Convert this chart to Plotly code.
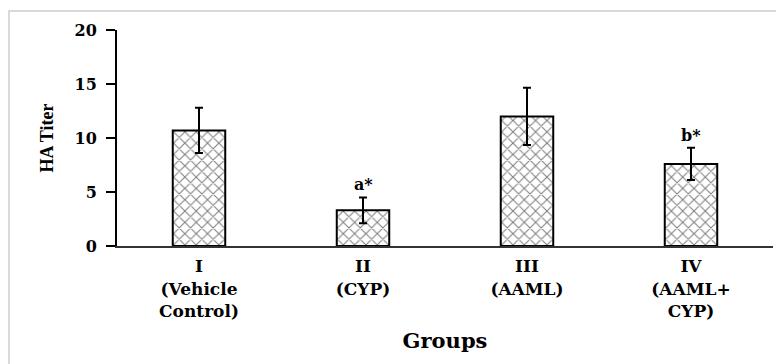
import plotly.graph_objects as go

groups = ["I<br>(Vehicle<br>Control)", "II<br>(CYP)", "III<br>(AAML)", "IV<br>(AAML+<br>CYP)"]
ha_titer = [10.7, 3.3, 12.0, 7.6]
sd = [2.1, 1.2, 2.65, 1.5]
sig_labels = ["", "a*", "", "b*"]

FONT = "Liberation Serif, Times New Roman, serif"
WIDE = "DejaVu Serif, serif"
# page body has an 8px default margin; figure sized to fit inside the window
W, H = 776, 356
ML, MR, MT, MB = 109, 11, 22, 118

x_idx = list(range(len(groups)))

fig = go.Figure()
fig.add_trace(go.Bar(
    x=x_idx, y=ha_titer, width=0.32,
    marker=dict(color="white",
                line=dict(color="black", width=2),
                pattern=dict(shape="x", size=8, solidity=0.25,
                             fgcolor="black", bgcolor="white")),
    error_y=dict(type="data", array=sd, visible=True,
                 color="black", thickness=2, width=4),
    showlegend=False,
))

for i, (v, e, s) in enumerate(zip(ha_titer, sd, sig_labels)):
    if s:
        fig.add_annotation(x=i, y=v + e, text=s, showarrow=False,
                           yanchor="bottom", yshift=1,
                           font=dict(family=WIDE, size=16, color="black", weight="bold"))

pw = W - ML - MR
ph = H - MT - MB
fig.add_shape(type="rect", xref="paper", yref="paper",
              x0=-(ML - 1) / pw, x1=(W - ML + 20) / pw,
              y0=-(MB + 20) / ph, y1=1 + (MT - 3) / ph,
              line=dict(color="#d9d9d9", width=2), layer="below")

fig.update_layout(
    width=W, height=H,
    margin=dict(l=ML, r=MR, t=MT, b=MB, autoexpand=False),
    paper_bgcolor="white", plot_bgcolor="white",
    font=dict(family=FONT, color="black"),
)
fig.update_xaxes(
    range=[-0.5, 3.5], tickvals=x_idx, ticktext=groups,
    showline=True, linecolor="#333333", linewidth=2,
    ticks="", showgrid=False, zeroline=False, automargin=False,
    ticklabelstandoff=4,
    tickfont=dict(family=WIDE, size=17, color="black", weight="bold"),
    title=dict(text="Groups", font=dict(family=WIDE, size=21, color="black", weight="bold"),
               standoff=14),
)
fig.update_yaxes(
    range=[0, 20], dtick=5,
    showline=True, linecolor="black", linewidth=2,
    ticks="outside", ticklen=9, tickwidth=2, tickcolor="black",
    showgrid=False, zeroline=False, automargin=False,
    ticklabelstandoff=6,
    tickfont=dict(family=WIDE, size=16, color="black", weight="bold"),
    title=dict(text="HA Titer", font=dict(family=FONT, size=18, color="black", weight="bold"),
               standoff=16),
)

fig.write_html("out.html")
